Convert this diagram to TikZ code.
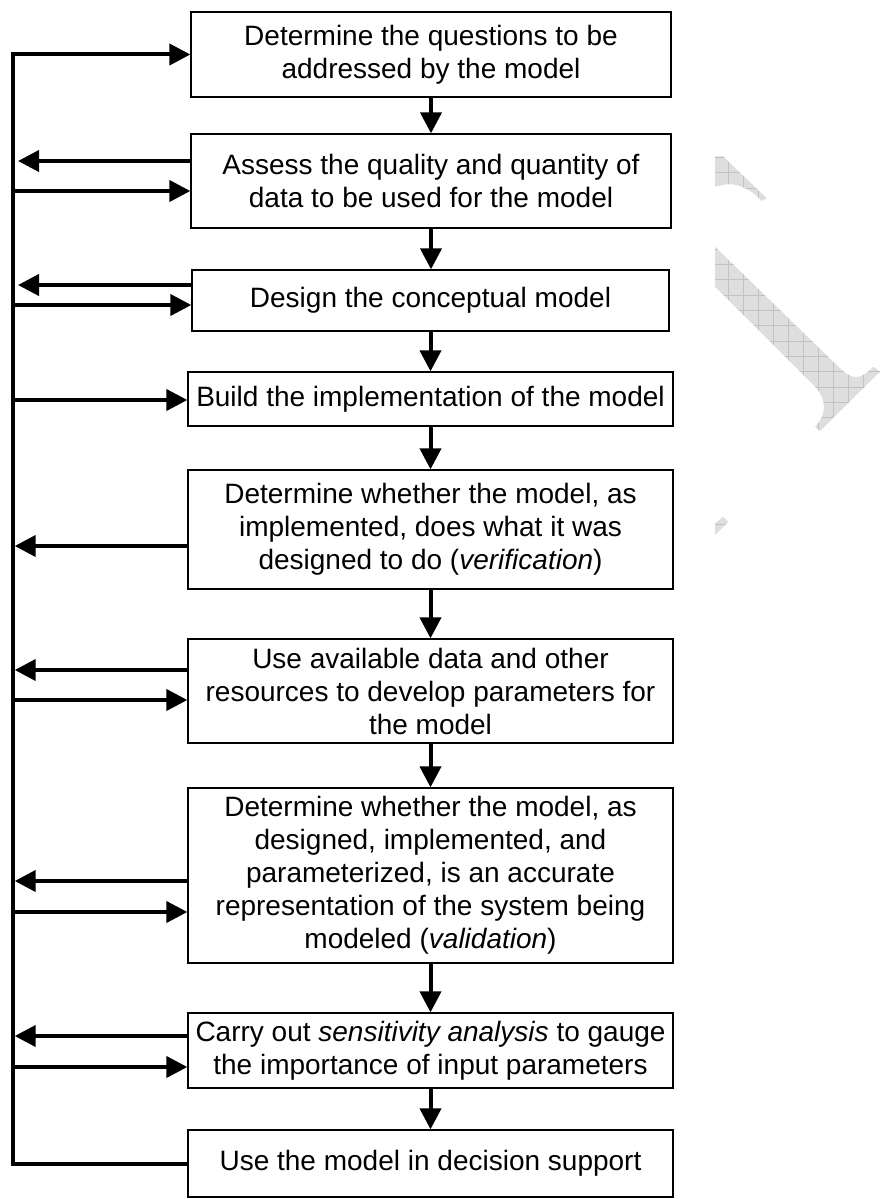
\documentclass[tikz,border=0pt]{standalone}
\usepackage{fontspec}
\setmainfont{Liberation Sans}
\usetikzlibrary{arrows.meta}
\begin{document}
\begin{tikzpicture}[x=1pt,y=-1pt,
  box/.style={draw=black, line width=1.3pt, inner sep=0pt, align=center,
    font=\fontsize{28}{33}\selectfont},
  flow/.style={line width=4pt, line join=miter, -{Triangle[length=21pt,width=21pt]}},
  wm/.style={fill=black!13},
  wmgrid/.style={draw=black!24, line width=0.45pt}]
\useasboundingbox (0,0) rectangle (884,1199);

% watermark fragments
\begin{scope}
\clip (715,156.7) -- (722.7,156) -- (766.7,198.3) -- (761.7,201)
   .. controls (752,190) and (738,183) .. (726.7,184.3) -- (715,186.7) -- cycle
   (715,246.7) -- (838.3,366.7) .. controls (845,373) and (850,377) .. (856,377)
   .. controls (862,377) and (867,373) .. (873.3,366.7) -- (880,371.7) -- (820,431)
   -- (815,426.7) .. controls (828,414) and (826,398) .. (815,386.7) -- (715,286.7) -- cycle
   (715,523.3) -- (723.3,516.7) -- (728.3,521.7) -- (715,535) -- cycle;
\fill[wm] (700,140) rectangle (884,545);
\foreach \gx in {713.3,728.3,...,884} \draw[wmgrid] (\gx,140) -- (\gx,545);
\foreach \gy in {142,157.3,...,545} \draw[wmgrid] (700,\gy) -- (884,\gy);
\end{scope}

% boxes
\node[box, minimum width=480pt, minimum height=85pt] (b1) at (431,54.5)
  {Determine the questions to be\\addressed by the model};
\node[box, minimum width=480pt, minimum height=94pt] (b2) at (431,181)
  {Assess the quality and quantity of\\data to be used for the model};
\node[box, minimum width=477pt, minimum height=61pt] (b3) at (430.5,300.5)
  {Design the conceptual model};
\node[box, minimum width=485pt, minimum height=54pt] (b4) at (430.5,399)
  {Build the implementation of the model};
\node[box, minimum width=485pt, minimum height=119pt] (b5) at (430.5,529.5)
  {Determine whether the model, as\\implemented, does what it was\\designed to do (\textit{verification})};
\node[box, minimum width=485pt, minimum height=104pt] (b6) at (430.5,691)
  {Use available data and other\\resources to develop parameters for\\the model};
\node[box, minimum width=485pt, minimum height=175pt] (b7) at (430.5,875.5)
  {Determine whether the model, as\\designed, implemented, and\\parameterized, is an accurate\\representation of the system being\\modeled (\textit{validation})};
\node[box, minimum width=485pt, minimum height=75pt] (b8) at (430.5,1050.5)
  {Carry out \textit{sensitivity analysis} to gauge\\the importance of input parameters};
\node[box, minimum width=485pt, minimum height=67pt] (b9) at (430.5,1163.5)
  {Use the model in decision support};

% vertical flow
\draw[flow] (b1.south) -- (b1.south |- b2.north);
\draw[flow] (b2.south) -- (b2.south |- b3.north);
\draw[flow] (b3.south) -- (b3.south |- b4.north);
\draw[flow] (b4.south) -- (b4.south |- b5.north);
\draw[flow] (b5.south) -- (b5.south |- b6.north);
\draw[flow] (b6.south) -- (b6.south |- b7.north);
\draw[flow] (b7.south) -- (b7.south |- b8.north);
\draw[flow] (b8.south) -- (b8.south |- b9.north);

% feedback bus
\coordinate (bt) at (12.7,54.5);
\coordinate (bb) at (12.7,1163.5);
\coordinate (bx) at (14.7,0);
\coordinate (bx2) at (18,0);
\draw[flow] (b9.west) -- (bb) -- (bt) -- (b1.west);

% side arrows
\path ([yshift=20pt]b2.west) coordinate (b2o) ([yshift=-10pt]b2.west) coordinate (b2i)
      ([yshift=15.5pt]b3.west) coordinate (b3o) ([yshift=-4.5pt]b3.west) coordinate (b3i)
      ([yshift=-1pt]b4.west) coordinate (b4i)
      ([yshift=-16.5pt]b5.west) coordinate (b5o)
      ([yshift=21pt]b6.west) coordinate (b6o) ([yshift=-9pt]b6.west) coordinate (b6i)
      ([yshift=-5.5pt]b7.west) coordinate (b7o) ([yshift=-36.5pt]b7.west) coordinate (b7i)
      ([yshift=14.5pt]b8.west) coordinate (b8o) ([yshift=-16.5pt]b8.west) coordinate (b8i);

\draw[flow] (b2o) -- (b2o -| bx2);
\draw[flow] (bt |- b2i) -- (b2i);
\draw[flow] (b3o) -- (b3o -| bx2);
\draw[flow] (bt |- b3i) -- (b3i);
\draw[flow] (bt |- b4i) -- (b4i);
\draw[flow] (b5o) -- (b5o -| bx);
\draw[flow] (b6o) -- (b6o -| bx);
\draw[flow] (bt |- b6i) -- (b6i);
\draw[flow] (b7o) -- (b7o -| bx);
\draw[flow] (bt |- b7i) -- (b7i);
\draw[flow] (b8o) -- (b8o -| bx);
\draw[flow] (bt |- b8i) -- (b8i);
\end{tikzpicture}
\end{document}
